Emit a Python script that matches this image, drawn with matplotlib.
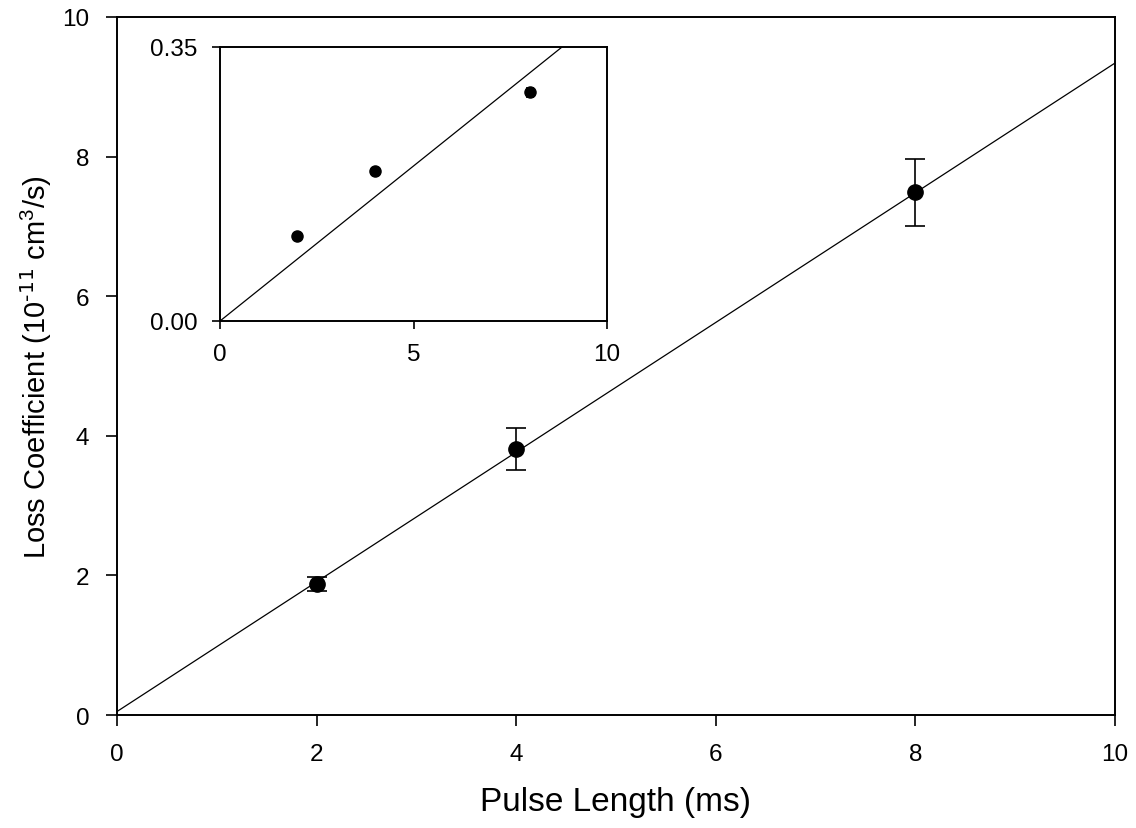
import numpy as np
import matplotlib
matplotlib.use("Agg")
import matplotlib.pyplot as plt

plt.rcParams['font.family'] = ['Liberation Sans', 'DejaVu Sans']

# Main panel: loss coefficient vs pulse length
pulse_ms = [2, 4, 8]
loss_coef = [1.88, 3.81, 7.49]
loss_err = [0.10, 0.30, 0.48]
fit_intercept = 0.05
fit_slope = 0.929

# Inset panel
inset_x = [2, 4, 8]
inset_y = [0.109, 0.191, 0.292]
inset_err = [0.002, 0.004, 0.006]
inset_slope = 0.0396

main_xticks = [0, 2, 4, 6, 8, 10]
main_yticks = [0, 2, 4, 6, 8, 10]
inset_xticks = [0, 5, 10]
inset_yticks = [0.0, 0.35]

fig = plt.figure(figsize=(11.36, 8.29), dpi=100)
ax = fig.add_axes([0.103, 0.1363, 0.8785, 0.842])

xf = np.array([0.0, 10.0])
ax.plot(xf, fit_intercept + fit_slope * xf, color='black', lw=0.9)
ax.errorbar(pulse_ms, loss_coef, yerr=loss_err, fmt='o', color='black',
            ms=11, capsize=7.2, elinewidth=1.2, capthick=1.2)

ax.set_xlim(0, 10)
ax.set_ylim(0, 10)
ax.set_xticks(main_xticks)
ax.set_yticks(main_yticks)
ax.tick_params(direction='out', length=8, width=1.2, labelsize=17.5, pad=12,
               top=False, right=False)
for s in ax.spines.values():
    s.set_linewidth(1.4)
ax.set_xlabel('Pulse Length (ms)', fontsize=24, labelpad=15)
ax.set_ylabel('Loss Coefficient (10$^{\\text{-11}}$ cm$^{\\mathregular{3}}$/s)',
              fontsize=21, labelpad=6)

# Inset
ins = fig.add_axes([0.1937, 0.6116, 0.3406, 0.3305])
xi = np.array([0.0, 10.0])
ins.plot(xi, inset_slope * xi, color='black', lw=0.9)
ins.errorbar(inset_x, inset_y, yerr=inset_err, fmt='o', color='black',
             ms=8, capsize=3, elinewidth=1.2, capthick=1.2)
ins.set_xlim(0, 10)
ins.set_ylim(0, 0.35)
ins.set_xticks(inset_xticks)
ins.set_yticks(inset_yticks)
ins.set_yticklabels(['0.00', '0.35'])
ins.tick_params(direction='out', length=6, width=1.2, labelsize=17.5, pad=10,
                top=False, right=False)
for s in ins.spines.values():
    s.set_linewidth(1.4)

fig.savefig('out.png', dpi=100)
